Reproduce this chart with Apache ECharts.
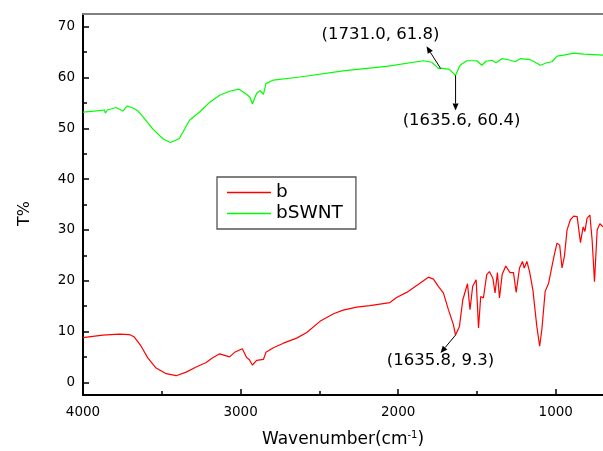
<!DOCTYPE html>
<html><head><meta charset="utf-8">
<script src="https://cdn.jsdelivr.net/npm/echarts@6/dist/echarts.min.js"></script>
<style>html,body{margin:0;padding:0;background:#fff}#c{width:603px;height:451px}</style>
</head><body><div id="c"></div>
<script>
// ---- data ----
const bWavenumber = [4000,3875,3769,3706,3674,3631,3589,3536,3472,3409,3345,3282,3218,3184,3133,3070,3038,2989,2962,2945,2925,2898,2855,2839,2792,2728,2644,2580,2496,2410,2349,2264,2180,2052,2010,1946,1862,1808,1776,1745,1713,1681,1649,1636,1611,1590,1560,1544,1527,1505,1490,1476,1459,1438,1421,1399,1385,1370,1357,1340,1317,1290,1268,1251,1230,1211,1200,1183,1166,1145,1120,1102,1088,1067,1045,1024,1009,992,975,960,945,928,907,886,864,843,826,815,801,783,769,754,737,720,700];
const bValues = [8.8,9.3,9.5,9.4,8.9,7.1,4.8,2.8,1.7,1.3,2.0,3.0,3.9,4.7,5.6,5.0,5.9,6.6,4.9,4.5,3.4,4.3,4.5,5.9,6.8,7.7,8.7,9.8,12.0,13.5,14.2,14.8,15.1,15.7,16.7,17.7,19.5,20.7,20.3,18.9,17.6,14.3,11.3,9.3,11.0,16.2,19.4,14.3,18.9,20.2,10.7,16.9,16.6,21.2,21.8,20.5,17.6,21.6,16.6,21.2,22.9,21.6,21.6,17.7,22.5,23.8,22.5,23.8,21.8,18.2,11.0,7.1,10.4,17.9,19.5,22.8,25.1,27.4,27.0,22.5,24.8,30.0,32.0,32.7,32.6,27.5,30.6,29.7,32.3,32.9,28.0,19.8,30.0,31.2,30.6];
const swntWavenumber = [4000,3930,3864,3858,3845,3790,3746,3720,3682,3650,3610,3555,3491,3445,3388,3324,3260,3197,3133,3070,3010,2962,2941,2925,2898,2877,2855,2839,2792,2623,2349,2137,2073,1840,1787,1745,1713,1675,1636,1607,1565,1501,1469,1442,1406,1378,1342,1300,1258,1226,1162,1130,1098,1056,1024,992,949,885,822,758,700];
const swntValues = [53.2,53.4,53.6,53.0,53.6,54.1,53.4,54.4,54.0,53.4,51.9,49.8,47.9,47.2,48.0,51.6,53.2,55.1,56.5,57.3,57.7,56.7,56.1,54.8,56.9,57.4,56.7,58.8,59.5,60.1,61.3,62.0,62.2,63.3,63.0,61.8,61.8,61.6,60.4,62.4,63.3,63.3,62.4,63.2,63.4,62.9,63.7,63.5,63.1,63.7,63.5,63.0,62.4,62.9,63.1,64.2,64.4,64.8,64.6,64.5,64.4];
const seriesNames = ['b','bSWNT'];
const xTickLabels = [1000,2000,3000,4000];
const xMinorTicks = [1500,2500,3500];
const yTickLabels = [0,10,20,30,40,50,60,70];
const yMinorTicks = [5,15,25,35,45,55,65];
const annPoints = [[1731.0,61.8],[1635.6,60.4],[1635.8,9.3]];
const annLabels = ['(1731.0, 61.8)','(1635.6, 60.4)','(1635.8, 9.3)'];

// ---- styling ----
const FONT = 'DejaVu Sans';
const X_MIN = 700, X_MAX = 4000, Y_MIN = -2.5, Y_MAX = 72.5;
const annArrowOffset = [[-14,-22],[0,35],[-15,18]];
const annTextOffset = [[-60,-34],[6,45],[-15,26]];

const zip = (a,b)=>a.map((v,i)=>[v,b[i]]);
const chart = echarts.init(document.getElementById('c'), null, {renderer:'canvas'});

const baseX = {type:'value', min:X_MIN, max:X_MAX, inverse:true, splitLine:{show:false}};
const baseY = {type:'value', min:Y_MIN, max:Y_MAX, splitLine:{show:false}};
const plain = v => String(v);
const hiddenLine = {show:true, onZero:false, lineStyle:{color:'#000', width:0, opacity:0}};

chart.setOption({
  animation:false,
  backgroundColor:'#fff',
  grid:{left:83, right:0, top:14, bottom:56, containLabel:false, outerBoundsMode:'none'},
  legend:{
    data:seriesNames, orient:'vertical', left:217, top:177,
    borderColor:'#555', borderWidth:1.3, padding:[6,13,6,10],
    icon:'rect', itemWidth:44, itemHeight:1.5, itemGap:2,
    textStyle:{fontFamily:FONT, fontSize:18.5, color:'#000', lineHeight:18}
  },
  xAxis:[
    Object.assign({}, baseX, {
      position:'bottom',
      axisLine:{show:true, onZero:false, lineStyle:{color:'#000', width:2}},
      axisTick:{show:true, inside:true, length:6, customValues:xTickLabels, lineStyle:{color:'#000', width:1.5}},
      axisLabel:{show:true, customValues:xTickLabels, formatter:plain, margin:10, fontFamily:FONT, fontSize:13.5, color:'#000'},
      name:'{n|Wavenumber(cm}{s|-1}{n|)}', nameLocation:'middle', nameGap:35,
      nameTextStyle:{rich:{n:{fontFamily:FONT, fontSize:17, color:'#000'}, s:{fontFamily:FONT, fontSize:10, color:'#000', padding:[0,0,9,0]}}}
    }),
    Object.assign({}, baseX, {
      position:'bottom',
      axisLine:hiddenLine,
      axisTick:{show:true, inside:true, length:4, customValues:xMinorTicks, lineStyle:{color:'#000', width:1.5}},
      axisLabel:{show:false}
    }),
    Object.assign({}, baseX, {
      position:'top',
      axisLine:{show:true, onZero:false, lineStyle:{color:'#808080', width:2}},
      axisTick:{show:false}, axisLabel:{show:false}
    })
  ],
  yAxis:[
    Object.assign({}, baseY, {
      position:'left',
      axisLine:{show:true, onZero:false, lineStyle:{color:'#000', width:2}},
      axisTick:{show:true, inside:true, length:6, customValues:yTickLabels, lineStyle:{color:'#000', width:1.5}},
      axisLabel:{show:true, customValues:yTickLabels, formatter:plain, margin:8, fontFamily:FONT, fontSize:13.5, color:'#000'},
      name:'T%', nameLocation:'middle', nameGap:50,
      nameTextStyle:{fontFamily:FONT, fontSize:16, color:'#000', padding:[0,0,0,-18]}
    }),
    Object.assign({}, baseY, {
      position:'left',
      axisLine:hiddenLine,
      axisTick:{show:true, inside:true, length:4, customValues:yMinorTicks, lineStyle:{color:'#000', width:1.5}},
      axisLabel:{show:false}
    })
  ],
  series:[
    {name:seriesNames[0], type:'line', xAxisIndex:0, yAxisIndex:0, data:zip(bWavenumber,bValues),
     showSymbol:false, symbol:'none', lineStyle:{color:'#ff0000', width:1.2}, itemStyle:{color:'#ff0000'}},
    {name:seriesNames[1], type:'line', xAxisIndex:0, yAxisIndex:0, data:zip(swntWavenumber,swntValues),
     showSymbol:false, symbol:'none', lineStyle:{color:'#00ff00', width:1.2}, itemStyle:{color:'#00ff00'}}
  ]
});

// ---- annotations anchored on data points ----
const graphics = [];
annPoints.forEach((p,i)=>{
  const [px,py] = chart.convertToPixel({xAxisIndex:0, yAxisIndex:0}, p);
  const tx = px + annArrowOffset[i][0], ty = py + annArrowOffset[i][1];
  const dx = tx-px, dy = ty-py, L = Math.hypot(dx,dy), ux = dx/L, uy = dy/L;
  const hl = 7, hw = 3;
  const bx = tx - ux*hl, by = ty - uy*hl;
  graphics.push({type:'line', z:100, shape:{x1:px, y1:py, x2:bx, y2:by}, style:{stroke:'#000', lineWidth:1}});
  graphics.push({type:'polygon', z:100, shape:{points:[[tx,ty],[bx - uy*hw, by + ux*hw],[bx + uy*hw, by - ux*hw]]}, style:{fill:'#000'}});
  graphics.push({type:'text', z:100, x:px + annTextOffset[i][0], y:py + annTextOffset[i][1],
    style:{text:annLabels[i], fontFamily:FONT, fontSize:16.5, fill:'#000', align:'center', verticalAlign:'middle'}});
});
chart.setOption({graphic:graphics});
</script>
</body></html>
